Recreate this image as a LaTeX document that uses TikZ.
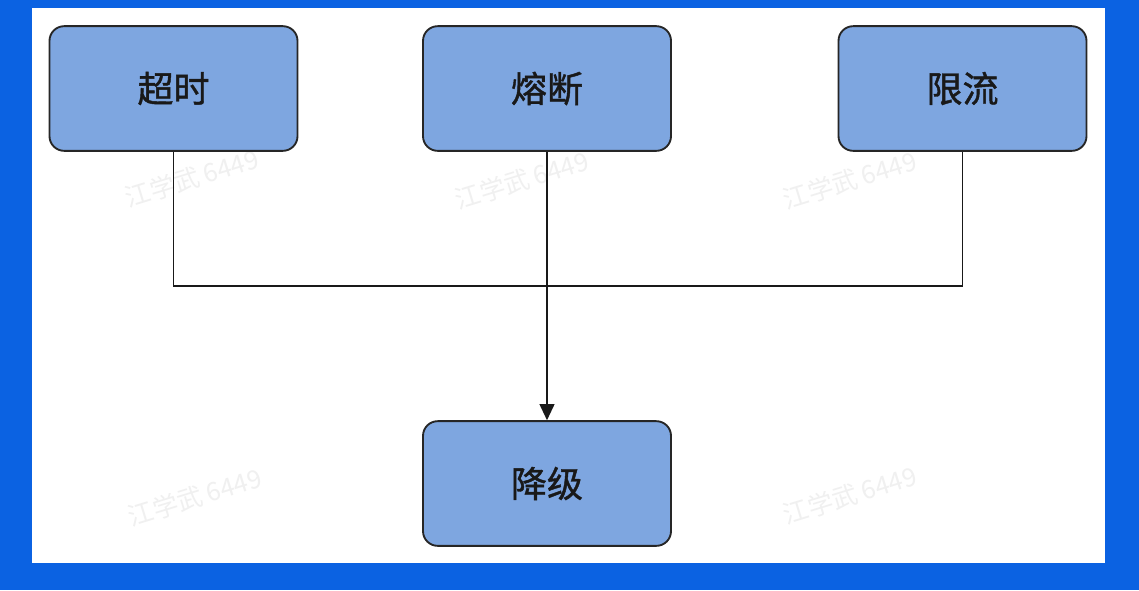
\documentclass[tikz,border=0pt]{standalone}
\usepackage{fontspec}
\newfontfamily\cjk{Noto Sans CJK SC}
\newfontfamily\cjkheavy{Noto Sans CJK SC}[FakeBold=1.2]
\usetikzlibrary{arrows.meta}
\definecolor{framebg}{HTML}{0B62E2}
\definecolor{boxfill}{HTML}{7EA6E0}
\definecolor{boxline}{HTML}{262626}
\begin{document}
\begin{tikzpicture}[x=0.75pt,y=-0.75pt,
  stepbox/.style={draw=boxline,line width=1.4pt,fill=boxfill,rounded corners=11pt,
    minimum width=186pt,minimum height=93.5pt,inner sep=0pt,
    font=\cjkheavy\fontsize{27}{32}\selectfont,text=black!90},
  link/.style={draw=black!90,line width=1.4pt},
  wmtext/.style={text=black!6,font=\cjk\fontsize{19}{22}\selectfont,rotate=17}]
  % blue frame with white canvas
  \fill[framebg] (0,0) rectangle (1139,590);
  \fill[white] (32,8) rectangle (1105,563);
  \useasboundingbox (0,0) rectangle (1139,590);
  % watermarks
  \foreach \px/\py in {192/178,522/180,850/180,195/497,850/495}
    \node[wmtext] (wm-\px-\py) at (\px,\py) {江学武 6449};
  % boxes
  \node[stepbox] (timeout) at (173.5,88.5) {超时};
  \node[stepbox] (breaker) at (547,88.5) {熔断};
  \node[stepbox] (limit)   at (962.5,88.5) {限流};
  \node[stepbox] (degrade) at (547,483.5) {降级};
  \coordinate (junction) at (547,286);
  % connectors
  \draw[link] (timeout.south) |- (junction);
  \draw[link] (limit.south) |- (junction);
  \draw[link,-{Triangle[length=12pt,width=11pt]}] (breaker.south) -- (degrade.north);
\end{tikzpicture}
\end{document}
